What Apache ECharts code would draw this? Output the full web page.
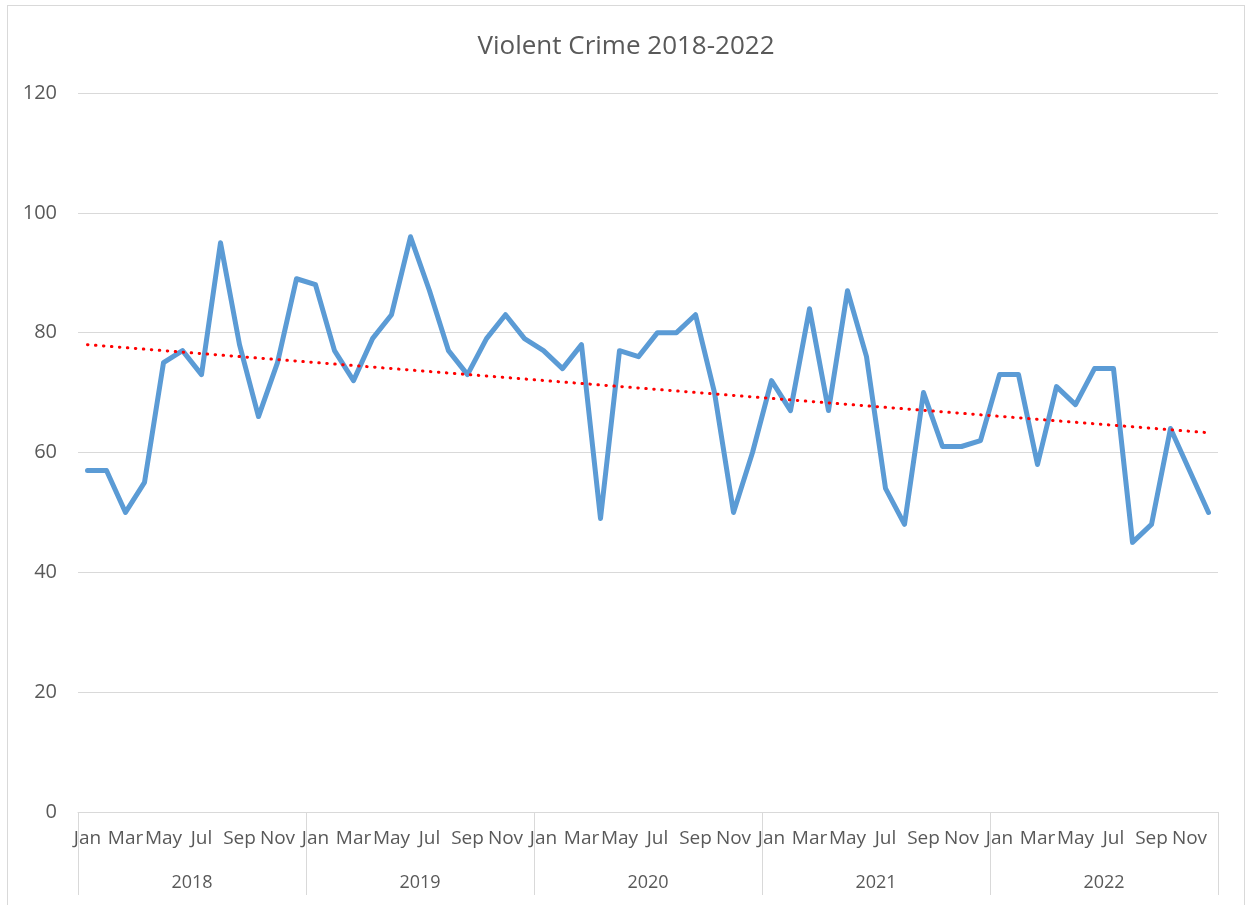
<!DOCTYPE html>
<html>
<head>
<meta charset="utf-8">
<script src="https://cdn.jsdelivr.net/npm/echarts@6/dist/echarts.min.js"></script>
<style>
html,body{margin:0;padding:0;background:#fff;}
#frame{position:absolute;left:7px;top:5px;width:1238px;height:905px;border:1px solid #d9d9d9;box-sizing:border-box;}
#chart{position:absolute;left:0;top:0;width:1252px;height:905px;}
</style>
</head>
<body>
<div id="frame"></div>
<div id="chart"></div>
<script>
const years = ['2018','2019','2020','2021','2022'];
const monthNames = ['Jan','Feb','Mar','Apr','May','Jun','Jul','Aug','Sep','Oct','Nov','Dec'];
const crime2018 = [57,57,50,55,75,77,73,95,78,66,75,89];
const crime2019 = [88,77,72,79,83,96,87,77,73,79,83,79];
const crime2020 = [77,74,78,49,77,76,80,80,83,70,50,60];
const crime2021 = [72,67,84,67,87,76,54,48,70,61,61,62];
const crime2022 = [73,73,58,71,68,74,74,45,48,64,57,50];
const trendStart = 78.0;
const trendEnd = 63.3;
const yTicks = [0,20,40,60,80,100,120];

const categories = [];
years.forEach(y => monthNames.forEach(m => categories.push(m + ' ' + y)));
const values = [].concat(crime2018, crime2019, crime2020, crime2021, crime2022);

const chart = echarts.init(document.getElementById('chart'));
const textColor = '#595959';
const font = '"Open Sans", "Noto Sans", sans-serif';
chart.setOption({
  animation: false,
  title: {
    text: 'Violent Crime 2018-2022',
    left: 'center',
    top: 29,
    textStyle: {color: textColor, fontSize: 26, fontWeight: 'normal', fontFamily: font}
  },
  grid: {left: 78, right: 34, top: 93, bottom: 93, containLabel: false},
  xAxis: [{
    type: 'category',
    data: categories,
    boundaryGap: true,
    axisLine: {show: true, lineStyle: {color: '#d9d9d9', width: 1}},
    axisTick: {show: false},
    axisLabel: {
      interval: 1,
      margin: 17,
      color: textColor,
      fontSize: 19,
      fontFamily: font,
      formatter: v => v.split(' ')[0]
    },
    splitLine: {show: false}
  }, {
    type: 'category',
    data: years,
    position: 'bottom',
    boundaryGap: true,
    axisLine: {show: false},
    axisTick: {show: true, length: 83, interval: 0, lineStyle: {color: '#d9d9d9', width: 1}},
    axisLabel: {margin: 62, color: textColor, fontSize: 18, fontFamily: font, interval: 0},
    splitLine: {show: false}
  }],
  yAxis: {
    type: 'value',
    min: yTicks[0],
    max: yTicks[yTicks.length - 1],
    interval: 20,
    axisLine: {show: false},
    axisTick: {show: false},
    axisLabel: {margin: 21, color: textColor, fontSize: 20, fontFamily: font},
    splitLine: {lineStyle: {color: '#d9d9d9', width: 1}}
  },
  series: [{
    type: 'line',
    data: values,
    xAxisIndex: 0,
    showSymbol: false,
    symbol: 'none',
    lineStyle: {color: '#5b9bd5', width: 5, join: 'round', cap: 'round'},
    markLine: {
      silent: true,
      symbol: ['none','none'],
      label: {show: false},
      lineStyle: {color: '#ff0000', width: 3, type: [0.5, 7.5], cap: 'round'},
      data: [[{coord: [categories[0], trendStart]}, {coord: [categories[categories.length - 1], trendEnd]}]]
    },
    z: 3
  }]
});
</script>
</body>
</html>
